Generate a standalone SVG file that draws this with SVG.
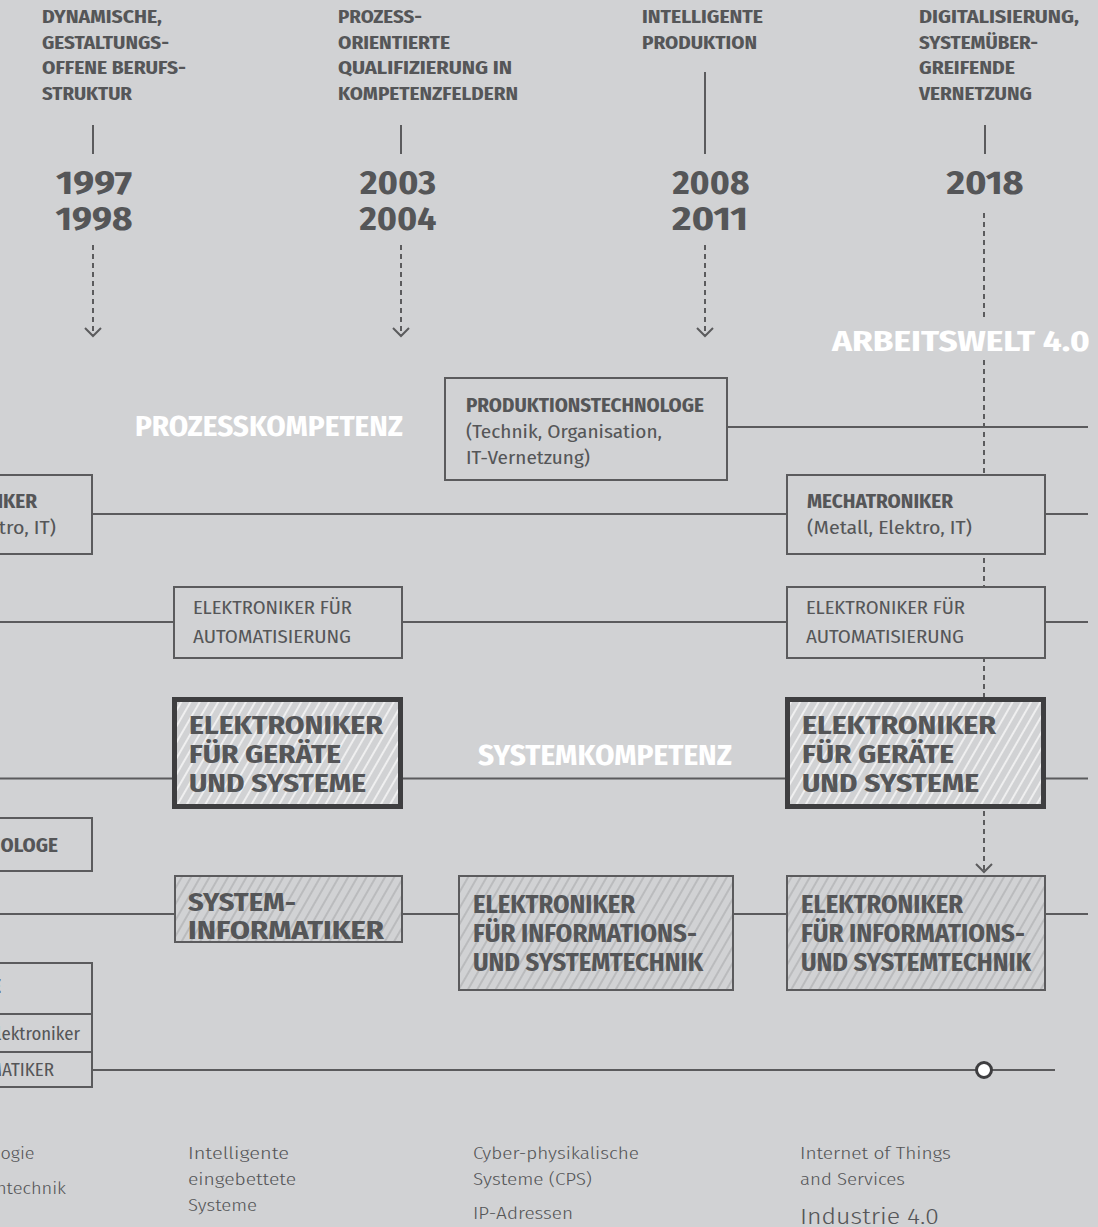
<svg xmlns="http://www.w3.org/2000/svg" width="1098" height="1227" viewBox="0 0 1098 1227">
<defs>
<style>
text{font-family:'Fira Sans Condensed',Roboto,'Liberation Sans',sans-serif;fill:#555658}
.h{font-weight:700;font-size:18.5px}
.y{font-weight:700;font-size:33px;text-anchor:middle}
.bt{font-weight:700;font-size:19px}
.rt{font-weight:400;font-size:19px}
.big{font-weight:700;font-size:25px}
.wt{font-weight:700;font-size:29px;fill:#ffffff}
.ft{font-weight:300;font-size:17.5px}
.box{fill:#d1d2d4;stroke:#5b5b5d;stroke-width:2}
.hbox{fill:url(#hg);stroke:#5b5b5d;stroke-width:2}
.bbox{fill:url(#hw);stroke:#3e3e40;stroke-width:5}
.ln{stroke:#5b5b5d;stroke-width:2;fill:none}
.ds{stroke:#5b5b5d;stroke-width:2;fill:none;stroke-dasharray:5 4}
.chev{stroke:#5b5b5d;stroke-width:2;fill:none}
</style>
<pattern id="hw" width="8" height="8" patternUnits="userSpaceOnUse" patternTransform="rotate(30)">
<rect width="8" height="8" fill="#d1d2d4"/>
<line x1="4" y1="0" x2="4" y2="8" stroke="#f7f7f7" stroke-width="1.6"/>
</pattern>
<pattern id="hg" width="8" height="8" patternUnits="userSpaceOnUse" patternTransform="rotate(30)">
<rect width="8" height="8" fill="#d1d2d4"/>
<line x1="4" y1="0" x2="4" y2="8" stroke="#a3a4a6" stroke-width="1"/>
</pattern>
</defs>
<rect x="0" y="0" width="1098" height="1227" fill="#d1d2d4"/>

<g id="headers">
<text class="h" x="42" y="23" textLength="120" lengthAdjust="spacingAndGlyphs">DYNAMISCHE,</text>
<text class="h" x="42" y="48.5" textLength="127" lengthAdjust="spacingAndGlyphs">GESTALTUNGS-</text>
<text class="h" x="42" y="74" textLength="144" lengthAdjust="spacingAndGlyphs">OFFENE BERUFS-</text>
<text class="h" x="42" y="99.5" textLength="90" lengthAdjust="spacingAndGlyphs">STRUKTUR</text>
<text class="h" x="338" y="23" textLength="84" lengthAdjust="spacingAndGlyphs">PROZESS-</text>
<text class="h" x="338" y="48.5" textLength="112" lengthAdjust="spacingAndGlyphs">ORIENTIERTE</text>
<text class="h" x="338" y="74" textLength="174" lengthAdjust="spacingAndGlyphs">QUALIFIZIERUNG IN</text>
<text class="h" x="338" y="99.5" textLength="180" lengthAdjust="spacingAndGlyphs">KOMPETENZFELDERN</text>
<text class="h" x="642" y="23" textLength="121" lengthAdjust="spacingAndGlyphs">INTELLIGENTE</text>
<text class="h" x="642" y="48.5" textLength="115" lengthAdjust="spacingAndGlyphs">PRODUKTION</text>
<text class="h" x="919" y="23" textLength="160" lengthAdjust="spacingAndGlyphs">DIGITALISIERUNG,</text>
<text class="h" x="919" y="48.5" textLength="119" lengthAdjust="spacingAndGlyphs">SYSTEMÜBER-</text>
<text class="h" x="919" y="74" textLength="96" lengthAdjust="spacingAndGlyphs">GREIFENDE</text>
<text class="h" x="919" y="99.5" textLength="113" lengthAdjust="spacingAndGlyphs">VERNETZUNG</text>
</g>

<g id="years">
<text class="y" x="94" y="194" textLength="76" lengthAdjust="spacingAndGlyphs">1997</text>
<text class="y" x="94" y="230" textLength="77" lengthAdjust="spacingAndGlyphs">1998</text>
<text class="y" x="398" y="194" textLength="76" lengthAdjust="spacingAndGlyphs">2003</text>
<text class="y" x="398" y="230" textLength="77" lengthAdjust="spacingAndGlyphs">2004</text>
<text class="y" x="711" y="194" textLength="77" lengthAdjust="spacingAndGlyphs">2008</text>
<text class="y" x="710" y="230" textLength="76" lengthAdjust="spacingAndGlyphs">2011</text>
<text class="y" x="985" y="194" textLength="77" lengthAdjust="spacingAndGlyphs">2018</text>
</g>

<g id="connectors">
<path class="ln" d="M93 125V154M401 125V154M705 72V154M985 125V154"/>
<path class="ds" d="M93 245V335M401 245V335M705 245V335"/>
<path class="chev" d="M85 328L93 336L101 328M393 328L401 336L409 328M697 328L705 336L713 328"/>
<path class="ds" d="M984 213V318M984 360V697M984 811V871"/>
<path class="chev" d="M976 864L984 872L992 864"/>
<path class="ln" d="M727 427H1088"/>
<path class="ln" d="M92 514H787M1045 514H1088"/>
<path class="ln" d="M0 622H174M402 622H787M1045 622H1088"/>
<path class="ln" d="M0 778.5H172M403 778.5H785M1046 778.5H1088"/>
<path class="ln" d="M0 914H175M402 914H459M733 914H787M1045 914H1088"/>
<path class="ln" d="M92 1070H1055"/>
<circle cx="984" cy="1070" r="7.5" fill="#ffffff" stroke="#3e3e40" stroke-width="3"/>
</g>

<g id="labels">
<text class="wt" x="832" y="351" textLength="258" lengthAdjust="spacingAndGlyphs">ARBEITSWELT 4.0</text>
<text class="wt" x="135" y="436" textLength="268" lengthAdjust="spacingAndGlyphs">PROZESSKOMPETENZ</text>
<text class="wt" x="478" y="765" textLength="254" lengthAdjust="spacingAndGlyphs">SYSTEMKOMPETENZ</text>
</g>

<g id="produktionstechnologe">
<rect class="box" x="445" y="378" width="282" height="102"/>
<text class="bt" x="466" y="412" textLength="238" lengthAdjust="spacingAndGlyphs">PRODUKTIONSTECHNOLOGE</text>
<text class="rt" x="466" y="438" textLength="196" lengthAdjust="spacingAndGlyphs">(Technik, Organisation,</text>
<text class="rt" x="466" y="464" textLength="124" lengthAdjust="spacingAndGlyphs">IT-Vernetzung)</text>
</g>

<g id="mechatroniker-left">
<rect class="box" x="-170" y="475" width="262" height="79"/>
<text class="bt" x="-109" y="508" textLength="146" lengthAdjust="spacingAndGlyphs">MECHATRONIKER</text>
<text class="rt" x="-109" y="534" textLength="165" lengthAdjust="spacingAndGlyphs">(Metall, Elektro, IT)</text>
</g>

<g id="mechatroniker-right">
<rect class="box" x="787" y="475" width="258" height="79"/>
<text class="bt" x="807" y="508" textLength="146" lengthAdjust="spacingAndGlyphs">MECHATRONIKER</text>
<text class="rt" x="807" y="534" textLength="165" lengthAdjust="spacingAndGlyphs">(Metall, Elektro, IT)</text>
</g>

<g id="automatisierung-left">
<rect class="box" x="174" y="587" width="228" height="71"/>
<text class="rt" x="193" y="614" textLength="159" lengthAdjust="spacingAndGlyphs">ELEKTRONIKER FÜR</text>
<text class="rt" x="193" y="643" textLength="158" lengthAdjust="spacingAndGlyphs">AUTOMATISIERUNG</text>
</g>

<g id="automatisierung-right">
<rect class="box" x="787" y="587" width="258" height="71"/>
<text class="rt" x="806" y="614" textLength="159" lengthAdjust="spacingAndGlyphs">ELEKTRONIKER FÜR</text>
<text class="rt" x="806" y="643" textLength="158" lengthAdjust="spacingAndGlyphs">AUTOMATISIERUNG</text>
</g>

<g id="geraete-left">
<rect class="bbox" x="174.5" y="699.5" width="226" height="107"/>
<text class="big" x="189" y="734" textLength="194" lengthAdjust="spacingAndGlyphs">ELEKTRONIKER</text>
<text class="big" x="189" y="763" textLength="152" lengthAdjust="spacingAndGlyphs">FÜR GERÄTE</text>
<text class="big" x="189" y="792" textLength="177" lengthAdjust="spacingAndGlyphs">UND SYSTEME</text>
</g>

<g id="geraete-right">
<rect class="bbox" x="787.5" y="699.5" width="256" height="107"/>
<text class="big" x="802" y="734" textLength="194" lengthAdjust="spacingAndGlyphs">ELEKTRONIKER</text>
<text class="big" x="802" y="763" textLength="152" lengthAdjust="spacingAndGlyphs">FÜR GERÄTE</text>
<text class="big" x="802" y="792" textLength="177" lengthAdjust="spacingAndGlyphs">UND SYSTEME</text>
</g>

<g id="produktionstechnologe-left">
<rect class="box" x="-200" y="818" width="292" height="53"/>
<text class="bt" x="-180" y="852" textLength="238" lengthAdjust="spacingAndGlyphs">PRODUKTIONSTECHNOLOGE</text>
</g>

<g id="systeminformatiker">
<rect class="hbox" x="175" y="876" width="227" height="66"/>
<text class="big" x="188" y="911" textLength="108" lengthAdjust="spacingAndGlyphs">SYSTEM-</text>
<text class="big" x="188" y="939" textLength="196" lengthAdjust="spacingAndGlyphs">INFORMATIKER</text>
</g>

<g id="ist-middle">
<rect class="hbox" x="459" y="876" width="274" height="114"/>
<text class="big" x="473" y="913" textLength="162" lengthAdjust="spacingAndGlyphs">ELEKTRONIKER</text>
<text class="big" x="473" y="942" textLength="224" lengthAdjust="spacingAndGlyphs">FÜR INFORMATIONS-</text>
<text class="big" x="473" y="971" textLength="230" lengthAdjust="spacingAndGlyphs">UND SYSTEMTECHNIK</text>
</g>

<g id="ist-right">
<rect class="hbox" x="787" y="876" width="258" height="114"/>
<text class="big" x="801" y="913" textLength="162" lengthAdjust="spacingAndGlyphs">ELEKTRONIKER</text>
<text class="big" x="801" y="942" textLength="224" lengthAdjust="spacingAndGlyphs">FÜR INFORMATIONS-</text>
<text class="big" x="801" y="971" textLength="230" lengthAdjust="spacingAndGlyphs">UND SYSTEMTECHNIK</text>
</g>

<g id="it-left">
<rect class="box" x="-200" y="963" width="292" height="51"/>
<rect class="box" x="-200" y="1014" width="292" height="38"/>
<rect class="box" x="-200" y="1052" width="292" height="35"/>
<text class="bt" x="-8" y="993">E</text>
<text class="rt" x="-12" y="1040" textLength="92" lengthAdjust="spacingAndGlyphs">Elektroniker</text>
<text class="rt" x="-58" y="1076" textLength="112" lengthAdjust="spacingAndGlyphs">INFORMATIKER</text>
</g>

<g id="footer">
<text class="ft" x="0.5" y="1159" textLength="34" lengthAdjust="spacingAndGlyphs">ogie</text>
<text class="ft" x="-4" y="1194" textLength="70" lengthAdjust="spacingAndGlyphs">ntechnik</text>
<text class="ft" x="188" y="1159" textLength="101" lengthAdjust="spacingAndGlyphs">Intelligente</text>
<text class="ft" x="188" y="1185" textLength="108" lengthAdjust="spacingAndGlyphs">eingebettete</text>
<text class="ft" x="188" y="1211" textLength="69" lengthAdjust="spacingAndGlyphs">Systeme</text>
<text class="ft" x="473" y="1159" textLength="166" lengthAdjust="spacingAndGlyphs">Cyber-physikalische</text>
<text class="ft" x="473" y="1185" textLength="119" lengthAdjust="spacingAndGlyphs">Systeme (CPS)</text>
<text class="ft" x="473" y="1219" textLength="100" lengthAdjust="spacingAndGlyphs">IP-Adressen</text>
<text class="ft" x="800" y="1159" textLength="151" lengthAdjust="spacingAndGlyphs">Internet of Things</text>
<text class="ft" x="800" y="1185" textLength="105" lengthAdjust="spacingAndGlyphs">and Services</text>
<text class="ft" x="800" y="1224" style="font-size:22px" textLength="139" lengthAdjust="spacingAndGlyphs">Industrie 4.0</text>
</g>
</svg>
